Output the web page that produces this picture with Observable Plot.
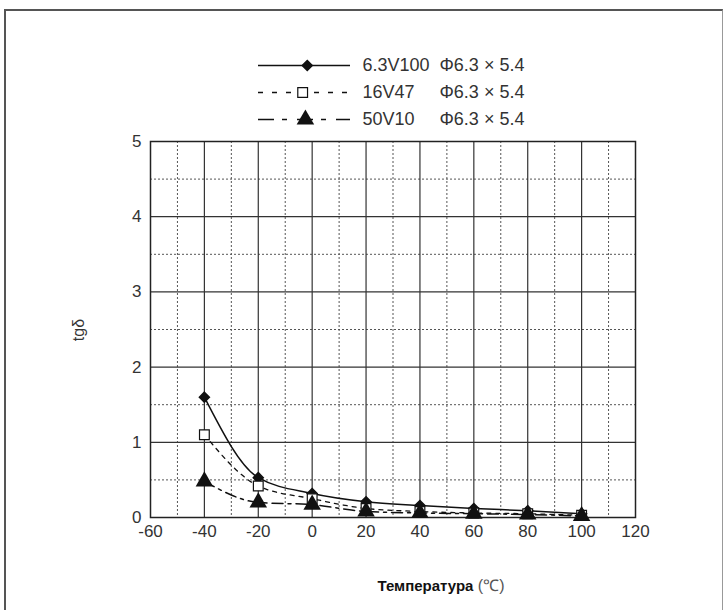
<!DOCTYPE html>
<html>
<head>
<meta charset="utf-8">
<script src="https://cdn.jsdelivr.net/npm/d3@7"></script>
<script src="https://cdn.jsdelivr.net/npm/@observablehq/plot@0.6"></script>
<style>
  body { margin: 0; background: #fff; }
  #wrap { position: relative; width: 726px; height: 610px; overflow: hidden; background: #fff; font-family: "Liberation Sans", Arial, sans-serif; }
  #border { position: absolute; left: 4px; top: 9px; width: 716px; height: 640px; border-top: 2px solid #555; border-left: 2px solid #555; border-right: 1px solid #999; }
  #legend { position: absolute; left: 0; top: 0; }
  #chart { position: absolute; left: 0; top: 130px; }
</style>
</head>
<body>
<div id="wrap">
  <div id="border"></div>
  <div id="legend"></div>
  <div id="chart"></div>
</div>
<script>
// ---- data ----
const temps = [-40, -20, 0, 20, 40, 60, 80, 100];
const s63V100 = [1.6, 0.53, 0.32, 0.21, 0.16, 0.12, 0.09, 0.05];
const s16V47  = [1.1, 0.42, 0.25, 0.12, 0.08, 0.06, 0.05, 0.03];
const s50V10  = [0.48, 0.2, 0.17, 0.08, 0.06, 0.05, 0.04, 0.02];
const seriesNames = ["6.3V100", "16V47", "50V10"];
const seriesSpecs = ["Φ6.3 × 5.4", "Φ6.3 × 5.4", "Φ6.3 × 5.4"];
const xTicks = [-60, -40, -20, 0, 20, 40, 60, 80, 100, 120];
const yTicks = [0, 1, 2, 3, 4, 5];
const xMajor = [-40, -20, 0, 20, 40, 60, 80, 100];
const xMinor = [-50, -30, -10, 10, 30, 50, 70, 90, 110];
const yMajor = [1, 2, 3, 4];
const yMinor = [0.5, 1.5, 2.5, 3.5, 4.5];
const xLabel = "Температура";
const xUnit = "(℃)";
const yLabel = "tgδ";

const toRows = vals => temps.map((t, i) => ({t, v: vals[i]}));
const d63 = toRows(s63V100), d16 = toRows(s16V47), d50 = toRows(s50V10);

const ink = "#111";
const dash16 = "4,5";
const dash50 = "11,5,3,5";
const font = "'Liberation Sans', Arial, sans-serif";

// ---- legend ----
const legRows = seriesNames.map((name, i) => ({name, spec: seriesSpecs[i]}));
const legend = Plot.plot({
  width: 726, height: 130, margin: 0,
  x: {domain: [0, 1], range: [258, 350], axis: null},
  y: {type: "point", domain: seriesNames, range: [65, 119], padding: 0, axis: null},
  style: {fontFamily: font, background: "transparent"},
  marks: [
    Plot.ruleY([legRows[0]], {y: "name", x1: () => 0, x2: () => 1, stroke: ink, strokeWidth: 1.5}),
    Plot.ruleY([legRows[1]], {y: "name", x1: () => 0, x2: () => 1, stroke: ink, strokeWidth: 1.3, strokeDasharray: "5,9"}),
    Plot.ruleY([legRows[2]], {y: "name", x1: () => 0, x2: () => 1, stroke: ink, strokeWidth: 1.5, strokeDasharray: "16,8,5,10"}),
    Plot.dot([legRows[0]], {y: "name", x: () => 0.53, symbol: "diamond2", r: 4.5, fill: ink, stroke: ink}),
    Plot.dot([legRows[1]], {y: "name", x: () => 0.48, symbol: "square", r: 5.5, fill: "#fff", stroke: ink, strokeWidth: 1.2}),
    Plot.dot([legRows[2]], {y: "name", x: () => 0.51, symbol: "triangle", r: 6.5, fill: ink}),
    Plot.text(legRows, {y: "name", x: () => 1, text: "name", dx: 12, textAnchor: "start", fontSize: 18, fill: "#333"}),
    Plot.text(legRows, {y: "name", x: () => 1, text: "spec", dx: 89, textAnchor: "start", fontSize: 18, fill: "#333", letterSpacing: "0.8px"})
  ]
});
document.getElementById("legend").appendChild(legend);

// ---- chart ----
const chart = Plot.plot({
  width: 726, height: 480,
  marginLeft: 150, marginRight: 91, marginTop: 11, marginBottom: 93,
  x: {domain: [-60, 120], ticks: xTicks, tickFormat: d => String(d), tickSize: 0, tickPadding: 7, label: null},
  y: {domain: [0, 5], ticks: yTicks, tickFormat: d => String(d), tickSize: 0, tickPadding: 9, label: null},
  style: {fontFamily: font, fontSize: "17px", color: "#333", background: "transparent"},
  marks: [
    Plot.ruleX(xMinor, {stroke: "#555", strokeDasharray: "2,2"}),
    Plot.ruleY(yMinor, {stroke: "#555", strokeDasharray: "2,2"}),
    Plot.ruleX(xMajor, {stroke: "#333", strokeWidth: 1.2}),
    Plot.ruleY(yMajor, {stroke: "#333", strokeWidth: 1.2}),
    Plot.frame({stroke: "#222", strokeWidth: 1.5}),
    Plot.line(d16, {x: "t", y: "v", curve: "monotone-x", stroke: ink, strokeWidth: 1.3, strokeDasharray: dash16}),
    Plot.line(d50, {x: "t", y: "v", curve: "monotone-x", stroke: ink, strokeWidth: 1.5, strokeDasharray: dash50}),
    Plot.line(d63, {x: "t", y: "v", curve: "monotone-x", stroke: ink, strokeWidth: 1.5}),
    Plot.dot(d63, {x: "t", y: "v", symbol: "diamond2", r: 4.5, fill: ink, stroke: ink}),
    Plot.dot(d16, {x: "t", y: "v", symbol: "square", r: 5.5, fill: "#fff", stroke: ink, strokeWidth: 1.2}),
    Plot.dot(d50, {x: "t", y: "v", symbol: "triangle", r: 6.5, fill: ink})
  ]
});
const svg = d3.select(chart);
svg.append("text")
  .attr("transform", "translate(84,200) rotate(-90)")
  .attr("text-anchor", "middle")
  .attr("font-size", 16).attr("fill", "#333")
  .attr("font-family", font)
  .text(yLabel);
const xl = svg.append("text")
  .attr("x", 441).attr("y", 461)
  .attr("text-anchor", "middle")
  .attr("font-family", font)
  .attr("font-size", 15);
xl.append("tspan").attr("font-weight", "bold").attr("fill", "#111").text(xLabel);
xl.append("tspan").attr("fill", "#555").attr("font-size", 16).text(" " + xUnit);
document.getElementById("chart").appendChild(chart);
</script>
</body>
</html>
